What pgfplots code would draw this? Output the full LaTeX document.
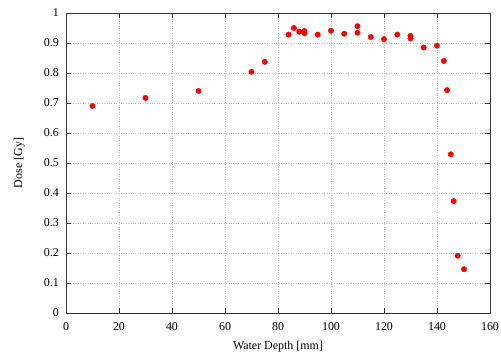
\documentclass[border=0pt]{standalone}
\usepackage{fontspec}
\setmainfont{Liberation Serif}
\usepackage{pgfplots}
\pgfplotsset{compat=1.18}
\begin{document}
\fontsize{12}{14}\selectfont
\begin{tikzpicture}
\begin{axis}[
  name=ax,
  at={(0,0)}, anchor=south west,
  scale only axis,
  width=424bp, height=300bp,
  xmin=0, xmax=160, ymin=0, ymax=1,
  xtick={0,20,...,160},
  ytick={0,0.1,...,1.0},
  yticklabels={0,0.1,0.2,0.3,0.4,0.5,0.6,0.7,0.8,0.9,1},
  /pgf/number format/assume math mode=true,
  tick align=inside,
  major tick length=5bp,
  tick style={black!80, line width=0.6pt},
  axis line style={black!80, line width=0.8pt},
  grid=major,
  major grid style={gray!45, dotted, line width=0.5pt},
  xlabel={Water Depth [mm]},
  ylabel={Dose [Gy]},
  xticklabel style={yshift=-5bp},
  yticklabel style={xshift=-3bp},
  xlabel style={yshift=-3bp},
  ylabel style={yshift=11bp},
  tick label style={font=\fontsize{12}{14}\selectfont},
  label style={font=\fontsize{12}{14}\selectfont},
]
\addplot[only marks, mark=*, mark size=2.7bp, color=red, mark options={fill=red, draw=red}] coordinates {
(10,0.690) (30,0.717) (50,0.740) (70,0.804) (75,0.837)
(84,0.928) (86,0.950) (88,0.938) (90,0.940) (90,0.932)
(95,0.928) (100,0.941) (105,0.931) (110,0.956) (110,0.934)
(115,0.920) (120,0.913) (125,0.928) (130,0.924) (130,0.915)
(135,0.885) (140,0.891) (142.6,0.840) (143.8,0.743)
(145.2,0.529) (146.3,0.373) (147.8,0.191) (150.2,0.146)
};
\end{axis}
\pgfresetboundingbox
\path (ax.south west) ++(-66bp,-41bp) rectangle ++(501bp,354bp);
\end{tikzpicture}
\end{document}
